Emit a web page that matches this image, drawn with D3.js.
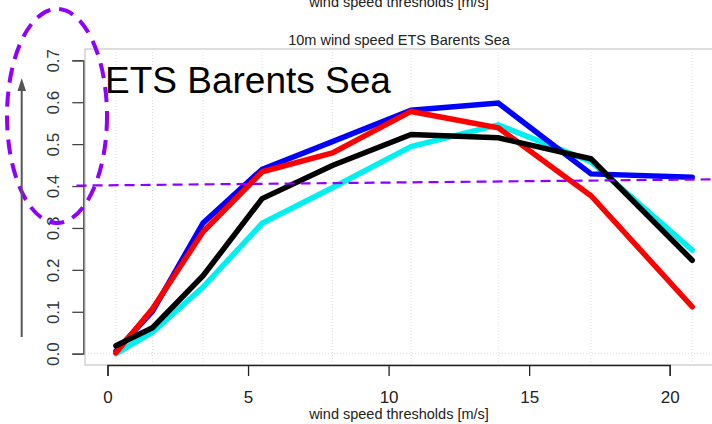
<!DOCTYPE html>
<html>
<head>
<meta charset="utf-8">
<script src="https://cdn.jsdelivr.net/npm/d3@7"></script>
<style>
  body { margin: 0; background: #fff; }
  svg { display: block; font-family: "Liberation Sans", Arial, sans-serif; }
</style>
</head>
<body>
<script>
// Beaufort wind speed thresholds [m/s]
var thresholds = [0.3, 1.6, 3.4, 5.5, 8.0, 10.8, 13.9, 17.2, 20.8];

// ETS per threshold, one array per model run
var etsCyan  = [0.000, 0.051, 0.159, 0.311, 0.396, 0.494, 0.546, 0.458, 0.247];
var etsBlue  = [0.006, 0.101, 0.312, 0.440, 0.506, 0.581, 0.598, 0.429, 0.421];
var etsRed   = [0.002, 0.107, 0.291, 0.434, 0.479, 0.578, 0.539, 0.377, 0.112];
var etsBlack = [0.019, 0.062, 0.186, 0.370, 0.449, 0.523, 0.515, 0.465, 0.223];

var xTicks = [0, 5, 10, 15, 20];
var yTicks = [0, 0.1, 0.2, 0.3, 0.4, 0.5, 0.6, 0.7];

// hand-drawn reference line (start/end in data units)
var refLine = [[-1.1, 0.401], [21.6, 0.416]];

var width = 712, height = 424;

var svg = d3.select("body").append("svg")
    .attr("width", width).attr("height", height);

var x = d3.scaleLinear().domain([0, 20]).range([107.5, 669.7]);
var y = d3.scaleLinear().domain([0, 0.7]).range([353.7, 60.3]);

// plot frame (right side runs off the picture)
svg.append("rect")
    .attr("x", 85).attr("y", 49)
    .attr("width", 700).attr("height", 316)
    .attr("fill", "none")
    .attr("stroke", "#bbb").attr("stroke-width", 1);

// dotted grid
svg.append("g").selectAll("line")
    .data(thresholds)
    .enter().append("line")
    .attr("x1", function(d){ return x(d); })
    .attr("x2", function(d){ return x(d); })
    .attr("y1", 49).attr("y2", 365)
    .attr("stroke", "#ddd").attr("stroke-dasharray", "1,2");

svg.append("line")
    .attr("x1", 85).attr("x2", width)
    .attr("y1", y(0)).attr("y2", y(0))
    .attr("stroke", "#ddd").attr("stroke-dasharray", "1,2");

// axes
var xAxis = d3.axisBottom(x).tickValues(xTicks).tickSize(11).tickFormat(d3.format("d"));
var gx = svg.append("g").attr("transform", "translate(0,365)").call(xAxis);
gx.select(".domain").attr("stroke", "#222").attr("stroke-width", 1.3);
gx.selectAll(".tick line").attr("stroke", "#222").attr("stroke-width", 1.3);
gx.selectAll(".tick text")
    .attr("y", 32).attr("dy", "0.35em")
    .attr("fill", "#222")
    .style("font-size", "17px")
    .style("font-family", "Liberation Sans, Arial, sans-serif");

var yAxis = d3.axisLeft(y).tickValues(yTicks).tickSize(11).tickFormat(d3.format(".1f"));
var gy = svg.append("g").attr("transform", "translate(83.3,0)").call(yAxis);
gy.select(".domain").attr("stroke", "#444").attr("stroke-width", 1.3);
gy.selectAll(".tick line").attr("stroke", "#444").attr("stroke-width", 1.3);
gy.selectAll(".tick text")
    .attr("x", null)
    .attr("text-anchor", "middle")
    .attr("transform", "translate(-30,0) rotate(-90)")
    .attr("dy", "0.35em")
    .attr("fill", "#333")
    .style("font-size", "17px")
    .style("font-family", "Liberation Sans, Arial, sans-serif");

// titles
svg.append("text")
    .attr("x", 399).attr("y", 7)
    .attr("text-anchor", "middle")
    .attr("fill", "#222")
    .style("font-size", "14.5px")
    .text("wind speed thresholds [m/s]");

svg.append("text")
    .attr("x", 399).attr("y", 45)
    .attr("text-anchor", "middle")
    .attr("fill", "#222")
    .style("font-size", "14.5px")
    .text("10m wind speed ETS Barents Sea");

svg.append("text")
    .attr("x", 399).attr("y", 419)
    .attr("text-anchor", "middle")
    .attr("fill", "#222")
    .style("font-size", "14.5px")
    .text("wind speed thresholds [m/s]");

svg.append("text")
    .attr("x", 105).attr("y", 93)
    .attr("fill", "#000")
    .style("font-size", "37px")
    .text("ETS Barents Sea");

// series lines
var line = d3.line()
    .x(function(d, i){ return x(thresholds[i]); })
    .y(function(d){ return y(d); });

var series = [
    {values: etsCyan,  color: "#00f0f0"},
    {values: etsBlue,  color: "#0000ff"},
    {values: etsRed,   color: "#ff0000"},
    {values: etsBlack, color: "#000000"}
];

svg.append("g").selectAll("path")
    .data(series)
    .enter().append("path")
    .attr("d", function(d){ return line(d.values); })
    .attr("fill", "none")
    .attr("stroke", function(d){ return d.color; })
    .attr("stroke-width", 5.5)
    .attr("stroke-linejoin", "miter")
    .attr("stroke-linecap", "round");

// annotations
svg.append("path")
    .attr("d", d3.line()
        .x(function(d){ return x(d[0]); })
        .y(function(d){ return y(d[1]); })(refLine))
    .attr("fill", "none")
    .attr("stroke", "#8f00ff")
    .attr("stroke-width", 2.2)
    .attr("stroke-dasharray", "10,6");

svg.append("ellipse")
    .attr("cx", 57).attr("cy", 116)
    .attr("rx", 50).attr("ry", 107)
    .attr("fill", "none")
    .attr("stroke", "#8f00ff")
    .attr("stroke-width", 4)
    .attr("stroke-dasharray", "15,9");

svg.append("line")
    .attr("x1", 21.7).attr("x2", 21.7)
    .attr("y1", 337).attr("y2", 88)
    .attr("stroke", "#555").attr("stroke-width", 2);

svg.append("path")
    .attr("d", "M21.7,78 L17.5,91 L26,91 Z")
    .attr("fill", "#555");
</script>
</body>
</html>
